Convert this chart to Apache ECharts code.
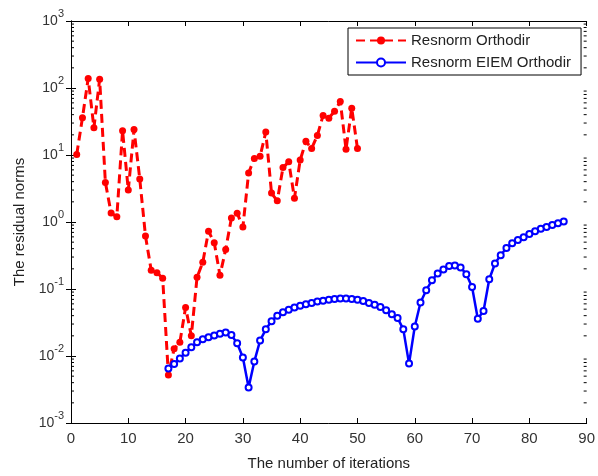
<!DOCTYPE html>
<html>
<head>
<meta charset="utf-8">
<script src="https://cdn.jsdelivr.net/npm/echarts@6/dist/echarts.min.js"></script>
<style>
  html, body { margin: 0; padding: 0; background: #fff; }
  #chart { width: 598px; height: 476px; }
</style>
</head>
<body>
<div id="chart"></div>
<script>
// data
var seriesNames = ["Resnorm Orthodir", "Resnorm EIEM Orthodir"];
var orthodirStart = 1;
var orthodirValues = [
  10.2, 36, 139, 25.5, 135, 3.9, 1.36, 1.2, 23, 3.0,
  24, 4.4, 0.62, 0.19, 0.175, 0.145, 0.0052, 0.0128, 0.016, 0.053,
  0.02, 0.15, 0.25, 0.73, 0.49, 0.16, 0.39, 1.15, 1.35, 0.84,
  5.4, 8.9, 9.6, 22, 2.7, 2.07, 6.5, 7.9, 2.27, 8.4,
  16, 12.5, 19.6, 39, 35.5, 45, 63, 12.2, 50, 12.5
];
var eiemStart = 17;
var eiemValues = [
  0.0065, 0.0076, 0.0092, 0.0112, 0.0135, 0.016, 0.0178, 0.019, 0.0202, 0.0215,
  0.0225, 0.0205, 0.0155, 0.0095, 0.0034, 0.0083, 0.017, 0.025, 0.033, 0.040,
  0.045, 0.049, 0.053, 0.056, 0.059, 0.062, 0.065, 0.067, 0.069, 0.071,
  0.072, 0.072, 0.071, 0.069, 0.066, 0.062, 0.058, 0.054, 0.048, 0.042,
  0.037, 0.025, 0.0077, 0.0275, 0.063, 0.096, 0.135, 0.17, 0.196, 0.22,
  0.225, 0.21, 0.166, 0.107, 0.036, 0.047, 0.14, 0.24, 0.32, 0.41,
  0.48, 0.54, 0.59, 0.66, 0.73, 0.79, 0.84, 0.90, 0.955, 1.02
];
var xTicks = [0, 10, 20, 30, 40, 50, 60, 70, 80, 90];
var yDecades = [-3, -2, -1, 0, 1, 2, 3];

function toPairs(start, values) {
  return values.map(function (v, i) { return [start + i, v]; });
}

var chart = echarts.init(document.getElementById("chart"));
var font = "Liberation Sans, Arial, sans-serif";

var yLabel = {
  color: "#333",
  margin: 7,
  fontFamily: font,
  formatter: function (v) {
    var e = Math.round(Math.log10(v));
    return "{b|10}{s|" + e + "}";
  },
  rich: {
    b: { fontSize: 14, fontFamily: font, color: "#333", verticalAlign: "middle", lineHeight: 26 },
    s: { fontSize: 11, fontFamily: font, color: "#333", verticalAlign: "top", lineHeight: 12 }
  }
};

chart.setOption({
  animation: false,
  backgroundColor: "#fff",
  grid: { left: 71, right: 9, top: 21, bottom: 49 },
  legend: {
    data: seriesNames,
    orient: "vertical",
    left: 348,
    top: 28,
    itemWidth: 50,
    itemHeight: 10,
    itemGap: 7,
    padding: [5, 10, 5, 7],
    borderColor: "#000",
    borderWidth: 1,
    borderRadius: 0,
    backgroundColor: "#fff",
    textStyle: { fontSize: 15, fontFamily: font, color: "#222" }
  },
  xAxis: [
    {
      type: "value",
      min: xTicks[0],
      max: xTicks[xTicks.length - 1],
      interval: 10,
      name: "The number of iterations",
      nameLocation: "middle",
      nameGap: 33,
      nameTextStyle: { fontSize: 15, fontFamily: font, color: "#222" },
      axisLine: { lineStyle: { color: "#000", width: 1 } },
      axisTick: { inside: true, length: 5, lineStyle: { color: "#000" } },
      axisLabel: { fontSize: 15, fontFamily: font, color: "#333", margin: 8 },
      splitLine: { show: false }
    },
    {
      type: "value",
      position: "top",
      min: xTicks[0],
      max: xTicks[xTicks.length - 1],
      interval: 10,
      axisLine: { lineStyle: { color: "#000", width: 1 } },
      axisTick: { inside: true, length: 5, lineStyle: { color: "#000" } },
      axisLabel: { show: false },
      splitLine: { show: false }
    }
  ],
  yAxis: [
    {
      type: "log",
      logBase: 10,
      min: Math.pow(10, yDecades[0]),
      max: Math.pow(10, yDecades[yDecades.length - 1]),
      name: "The residual norms",
      nameLocation: "middle",
      nameGap: 41,
      nameTextStyle: { fontSize: 15, fontFamily: font, color: "#222" },
      axisLine: { show: true, lineStyle: { color: "#000", width: 1 } },
      axisTick: { inside: true, length: 5, lineStyle: { color: "#000" } },
      axisLabel: yLabel,
      splitLine: { show: false }
    },
    {
      type: "log",
      logBase: 10,
      position: "right",
      min: Math.pow(10, yDecades[0]),
      max: Math.pow(10, yDecades[yDecades.length - 1]),
      axisLine: { show: true, lineStyle: { color: "#000", width: 1 } },
      axisTick: { inside: true, length: 5, lineStyle: { color: "#000" } },
      axisLabel: { show: false },
      splitLine: { show: false }
    }
  ],
  series: [
    {
      name: seriesNames[0],
      type: "line",
      data: toPairs(orthodirStart, orthodirValues),
      symbol: "circle",
      symbolSize: 7,
      itemStyle: { color: "#ff0000" },
      lineStyle: { color: "#ff0000", width: 3, type: [9, 5] }
    },
    {
      name: seriesNames[1],
      type: "line",
      data: toPairs(eiemStart, eiemValues),
      symbol: "emptyCircle",
      symbolSize: 6,
      itemStyle: { color: "#0000ff", borderWidth: 2 },
      lineStyle: { color: "#0000ff", width: 2.5 }
    }
  ]
});

// log-spaced minor ticks on both sides, placed through the axis scale
var xl = chart.convertToPixel({ xAxisIndex: 0 }, xTicks[0]);
var xr = chart.convertToPixel({ xAxisIndex: 0 }, xTicks[xTicks.length - 1]);
var minor = [];
for (var d = 0; d < yDecades.length - 1; d++) {
  for (var k = 2; k <= 9; k++) {
    var py = chart.convertToPixel({ yAxisIndex: 0 }, k * Math.pow(10, yDecades[d]));
    minor.push({ type: "line", shape: { x1: xl, y1: py, x2: xl + 3, y2: py }, style: { stroke: "#000", lineWidth: 1 } });
    minor.push({ type: "line", shape: { x1: xr - 3, y1: py, x2: xr, y2: py }, style: { stroke: "#000", lineWidth: 1 } });
  }
}
chart.setOption({ graphic: minor });
</script>
</body>
</html>
